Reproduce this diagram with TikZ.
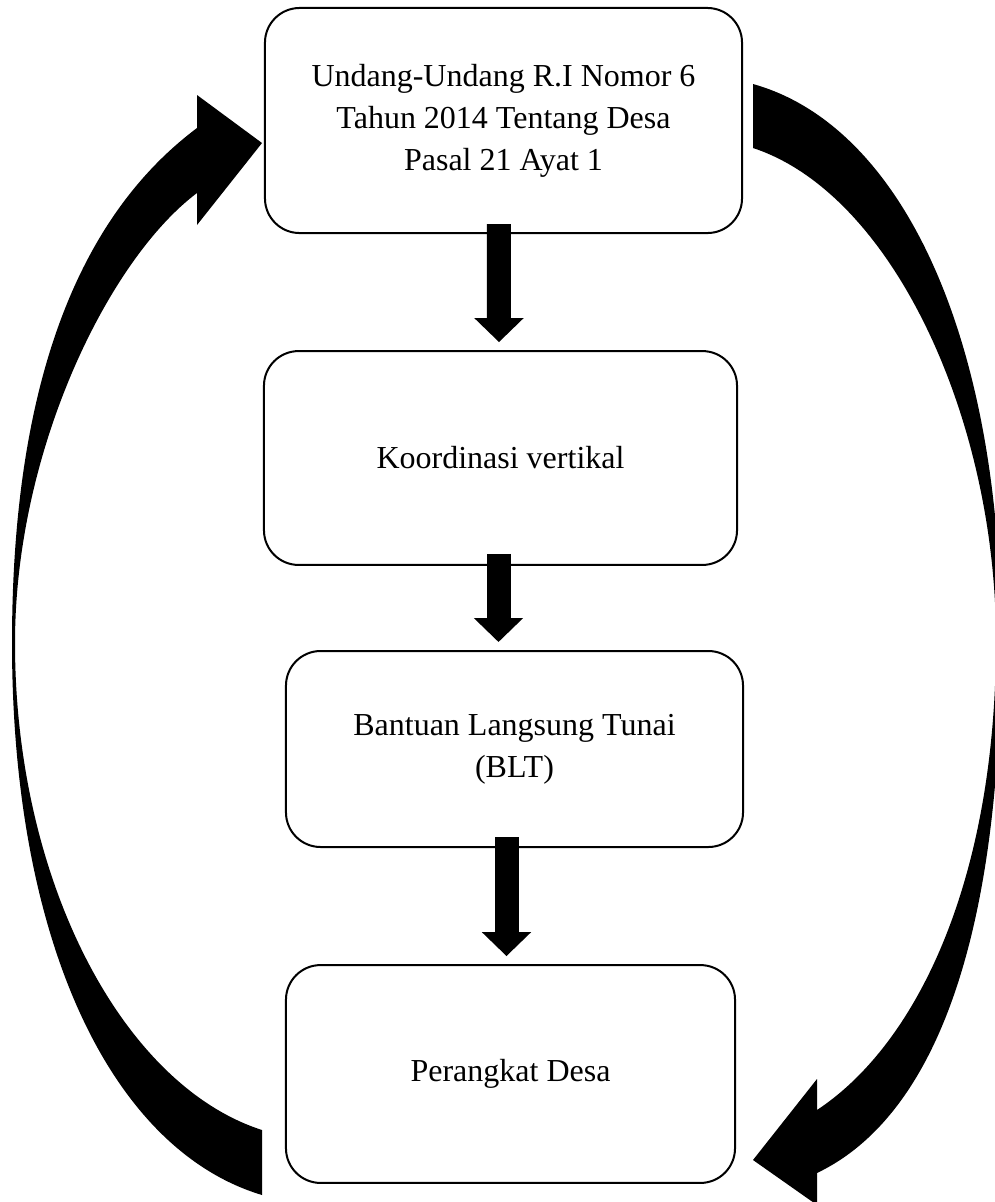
\documentclass[tikz,border=0pt]{standalone}
\usepackage{fontspec}
\setmainfont{Liberation Serif}
\usepackage{tikz}
\usetikzlibrary{arrows.meta,calc,positioning}

\begin{document}
\begin{tikzpicture}[
    x=0.375pt,y=-0.375pt,
    box/.style={draw,line width=0.75pt,rounded corners=13pt,align=center,
      inner sep=0pt,font=\fontsize{12}{15.8}\selectfont},
    flowarrow/.style={line width=9pt,-{Triangle[width=18pt,length=9pt]},
      shorten >=3pt}
  ]
  \useasboundingbox (0,0) rectangle (995,1202);
  \clip (0,0) rectangle (995,1202);

  % boxes
  \node[box,minimum width=178.9pt,minimum height=84.4pt] (uu) at (503.5,120.5)
    {Undang-Undang R.I Nomor 6\\Tahun 2014 Tentang Desa\\Pasal 21 Ayat 1};
  \node[box,minimum width=177.4pt,minimum height=80.2pt] (koord) at (500.5,458)
    {Koordinasi vertikal};
  \node[box,minimum width=171.4pt,minimum height=73.5pt] (blt) at (514.5,749)
    {Bantuan Langsung Tunai\\(BLT)};
  \node[box,minimum width=168.4pt,minimum height=81.7pt] (desa) at (510.5,1074)
    {Perangkat Desa};

  % straight arrows
  \draw[flowarrow] ([xshift=-1.7pt,yshift=3.75pt]uu.south) -- ([xshift=-0.56pt]koord.north);
  \draw[flowarrow] ([xshift=-0.75pt,yshift=4.5pt]koord.south) -- ([xshift=-6pt]blt.north);
  \draw[flowarrow] ([xshift=-3pt,yshift=4pt]blt.south) -- ([xshift=-1.5pt]desa.north);

  % curved arrow, left side
  \fill (262,1195) .. controls (112,1150) and (12,943) .. (12,643)
    .. controls (12,343) and (101,200) .. (197,128)
    -- (197,95) -- (262,143) -- (197,225) -- (197,193)
    .. controls (109,259) and (15,450) .. (15,643)
    .. controls (15,880) and (122,1085) .. (262,1130) -- cycle;

  % curved arrow, right side
  \fill (753,84) .. controls (903,126) and (1001,340) .. (1001,640)
    .. controls (1001,940) and (934,1117) .. (817,1173)
    -- (817,1205) -- (753,1160) -- (817,1079) -- (817,1110)
    .. controls (917,1044) and (996,880) .. (996,640)
    .. controls (996,420) and (893,194) .. (753,148) -- cycle;
\end{tikzpicture}
\end{document}
